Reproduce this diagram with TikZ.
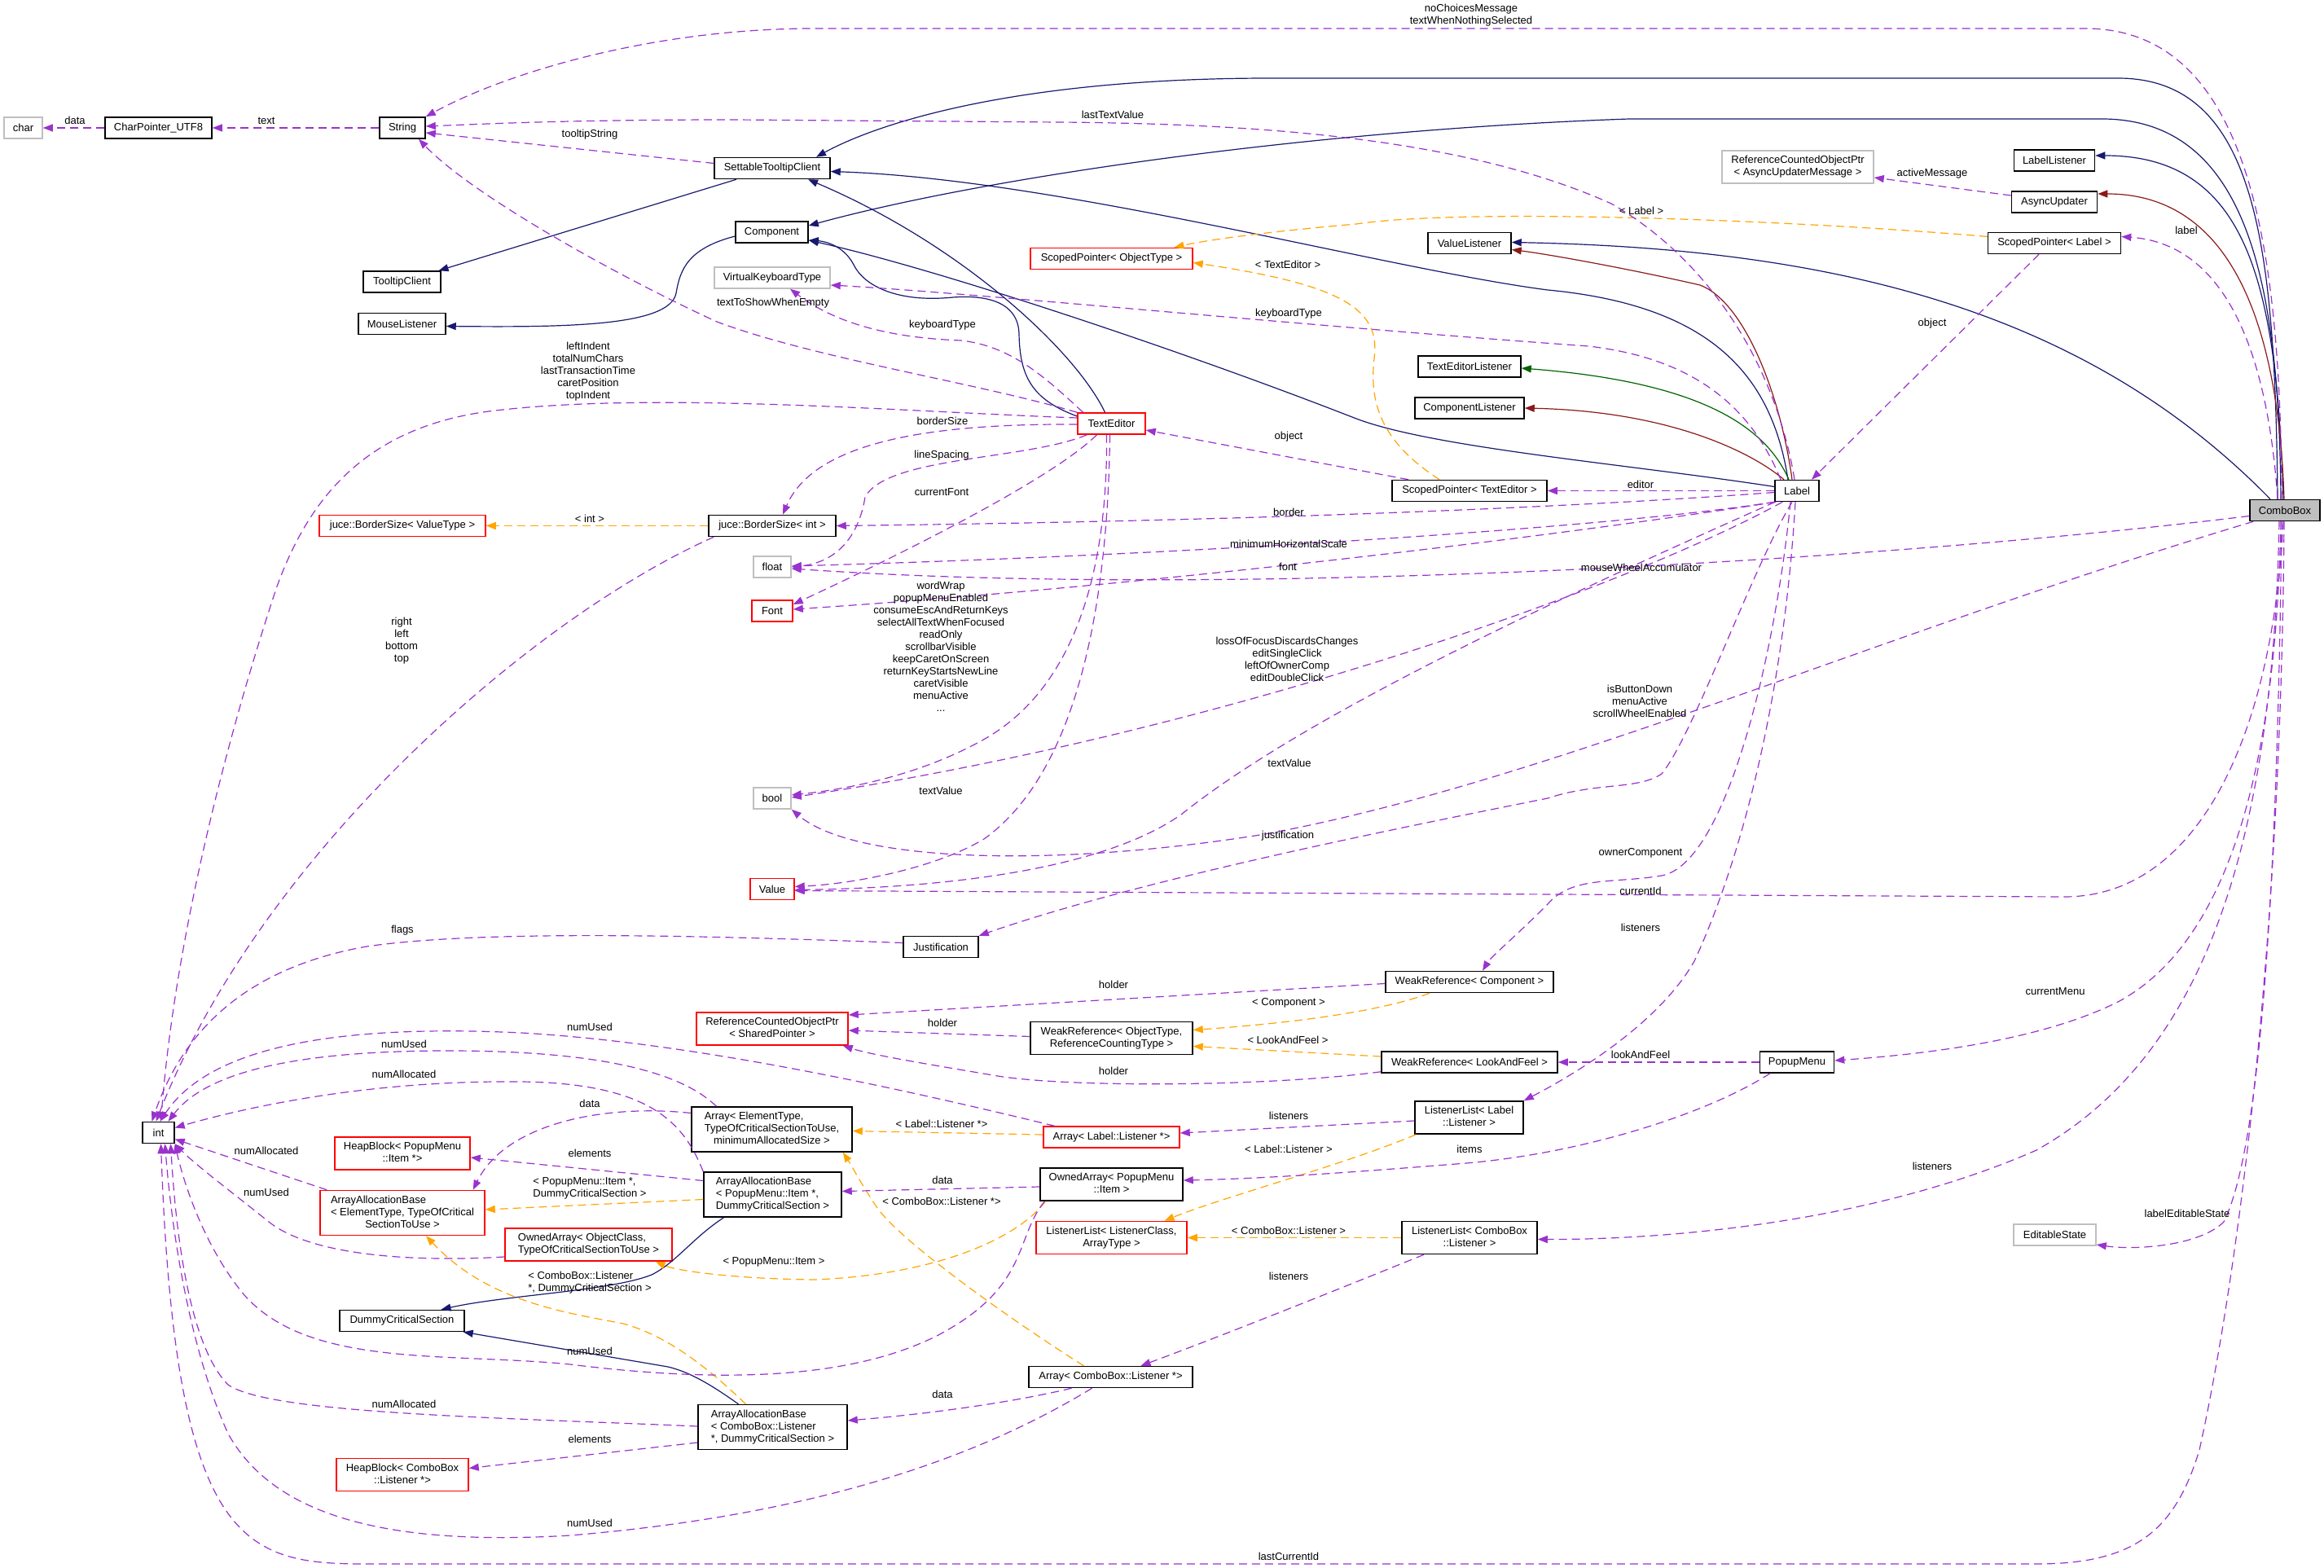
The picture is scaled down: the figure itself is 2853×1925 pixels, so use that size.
\documentclass[tikz,border=0pt]{standalone}
\usepackage{fontspec}
\setmainfont{Liberation Sans}
\usetikzlibrary{arrows.meta,calc}
\definecolor{purp}{HTML}{9A32CD}
\definecolor{mblue}{HTML}{191970}
\definecolor{fbrick}{HTML}{8B1A1A}
\definecolor{dgreen}{HTML}{006400}
\definecolor{orng}{HTML}{FFA500}
\definecolor{gry}{HTML}{BFBFBF}
\newcommand{\nf}{\fontsize{6.5}{7.5}\selectfont}
\newcommand{\twoln}[2]{\begin{tabular}{@{}l@{}}#1\\\multicolumn{1}{@{}c@{}}{#2}\end{tabular}}
\newcommand{\threeln}[3]{\begin{tabular}{@{}l@{}}#1\\#2\\\multicolumn{1}{@{}c@{}}{#3}\end{tabular}}
\begin{document}
\begin{tikzpicture}[x=0.5pt,y=-0.5pt,
  box/.style={draw=black,line width=0.75pt,fill=white,inner sep=0pt,font=\nf,minimum height=13pt},
  rb/.style={box,draw=red},
  gb/.style={box,draw=gry},
  h2/.style={minimum height=20pt},
  h3/.style={minimum height=27.5pt},
  wd/.style={minimum width=#1pt},
  lb/.style={font=\nf,inner sep=0pt,text=black,align=center},
  tip/.style={-{Triangle[length=6pt,width=4.5pt]}},
  pu/.style={draw=purp,line width=0.6pt,dash pattern=on 5pt off 3pt,tip},
  og/.style={draw=orng,line width=0.6pt,dash pattern=on 5pt off 3pt,tip},
  blu/.style={draw=mblue,line width=0.6pt,tip},
  rd/.style={draw=fbrick,line width=0.6pt,tip},
  gn/.style={draw=dgreen,line width=0.6pt,tip}]
\fill[white] (0,0) rectangle (2853,1925);
\useasboundingbox (0,0) rectangle (2853,1925);
% nodes
\node[gb, wd=23.5] (char) at (28.5,157) {char};
\node[box, wd=65.5] (cpu) at (194.5,157) {CharPointer\_UTF8};
\node[box, wd=28] (str) at (494,157) {String};
\node[box, wd=71] (settable) at (948,206.5) {SettableTooltipClient};
\node[box, wd=44.5] (component) at (947.5,285) {Component};
\node[box, wd=47.5] (tooltip) at (493.5,346) {TooltipClient};
\node[box, wd=53.5] (mouse) at (493.5,397.5) {MouseListener};
\node[gb, wd=71] (vkt) at (948,341) {VirtualKeyboardType};
\node[rb, wd=102] (bsvt) at (494,645.5) {juce::BorderSize< ValueType >};
\node[box, wd=78] (bsint) at (948,645.5) {juce::BorderSize< int >};
\node[gb, wd=23] (flt) at (948,696) {float};
\node[rb, wd=25] (fnt) at (948,750) {Font};
\node[gb, wd=23] (bol) at (948,980) {bool};
\node[rb, wd=27] (val) at (948,1091.5) {Value};
\node[rb, h2, wd=93] (rcsp) at (948,1263) {\twoln{ReferenceCountedObjectPtr}{< SharedPointer >}};
\node[rb, wd=41.5] (te) at (1364.5,520) {TextEditor};
\node[rb, wd=99.5] (spot) at (1364.5,317.5) {ScopedPointer< ObjectType >};
\node[box, wd=51] (vl) at (1804,298.5) {ValueListener};
\node[box, wd=63] (tel) at (1804,450) {TextEditorListener};
\node[box, wd=67] (cl) at (1804,501) {ComponentListener};
\node[box, wd=95] (spte) at (1804,602.5) {ScopedPointer< TextEditor >};
\node[box, wd=27] (lbl) at (2206,602.5) {Label};
\node[box, fill=gry, wd=43] (combo) at (2805,626.5) {ComboBox};
\node[box, wd=49.5] (ll) at (2522,197) {LabelListener};
\node[box, wd=52.5] (au) at (2522,248) {AsyncUpdater};
\node[gb, h2, wd=93] (rcau) at (2207,205) {\twoln{ReferenceCountedObjectPtr}{< AsyncUpdaterMessage >}};
\node[box, wd=81.5] (spl) at (2522,298.5) {ScopedPointer< Label >};
\node[box, wd=46] (just) at (1155,1162.5) {Justification};
\node[box, wd=103] (wrc) at (1804,1205.5) {WeakReference< Component >};
\node[box, h2, wd=99.5] (wrot) at (1364.5,1274.5) {\twoln{WeakReference< ObjectType,}{ReferenceCountingType >}};
\node[box, wd=108] (wrlf) at (1804,1304) {WeakReference< LookAndFeel >};
\node[box, wd=45.5] (popup) at (2206,1304) {PopupMenu};
\node[box, h2, wd=66.5] (lll) at (1803.5,1372) {\twoln{ListenerList< Label}{::Listener >}};
\node[rb, wd=83.5] (alp) at (1364.5,1396) {Array< Label::Listener *>};
\node[box, h3, wd=98.5] (aet) at (947.5,1386.5) {\threeln{Array< ElementType,}{TypeOfCriticalSectionToUse,}{minimumAllocatedSize >}};
\node[box, h2, wd=87.5] (oapi) at (1364.5,1454) {\twoln{OwnedArray< PopupMenu}{::Item >}};
\node[box, h3, wd=84.5] (aabpi) at (948.5,1466.5) {\threeln{ArrayAllocationBase}{< PopupMenu::Item *,}{DummyCriticalSection >}};
\node[rb, h2, wd=92.5] (llcl) at (1364.5,1519.5) {\twoln{ListenerList< ListenerClass,}{ArrayType >}};
\node[box, h2, wd=83] (llcb) at (1804,1519.5) {\twoln{ListenerList< ComboBox}{::Listener >}};
\node[box, wd=100.5] (acb) at (1363.5,1690.5) {Array< ComboBox::Listener *>};
\node[box, h3, wd=91.5] (aabcb) at (948.5,1752) {\threeln{ArrayAllocationBase}{< ComboBox::Listener}{*, DummyCriticalSection >}};
\node[box, wd=19.5] (int) at (194.5,1390.5) {int};
\node[rb, h2, wd=83] (hbpi) at (494,1416) {\twoln{HeapBlock< PopupMenu}{::Item *>}};
\node[rb, h3, wd=101] (aabet) at (494,1489) {\threeln{ArrayAllocationBase}{< ElementType, TypeOfCritical}{SectionToUse >}};
\node[rb, h2, wd=102.5] (oaoc) at (722.5,1528) {\twoln{OwnedArray< ObjectClass,}{TypeOfCriticalSectionToUse >}};
\node[box, wd=76.5] (dcs) at (493.5,1621.5) {DummyCriticalSection};
\node[rb, h2, wd=81] (hbcb) at (494,1810.5) {\twoln{HeapBlock< ComboBox}{::Listener *>}};
\node[gb, wd=50.5] (es) at (2522.5,1516) {EditableState};
% inheritance edges
\draw[blu] ($(combo.north)+(-9,0)$) .. controls (2793,300) and (2770,96) .. (2600,96) -- (1560,96) .. controls (1250,96) and (1080,150) .. ($(settable.north)+(54,0)$);
\draw[blu] ($(combo.north)+(-5,0)$) .. controls (2798,350) and (2760,146) .. (2580,146) -- (2000,146) .. controls (1600,160) and (1200,220) .. ($(component.east)+(0,-8)$);
\draw[blu] ($(combo.north)+(-2,0)$) .. controls (2795,350) and (2760,191) .. ($(ll.east)+(0,-6)$);
\draw[rd] ($(combo.north)+(-1,0)$) .. controls (2797,400) and (2740,238) .. ($(au.east)+(0,-10)$);
\draw[blu] ($(combo.north)+(-18,0)$) .. controls (2560,380) and (2250,305) .. ($(vl.east)+(0,-1)$);
\draw[blu] ($(lbl.north)+(-11,0)$) .. controls (2175,460) and (2100,375) .. (1900,356) .. controls (1700,330) and (1300,220) .. ($(settable.east)+(0,4)$);
\draw[blu] ($(lbl.west)+(0,-5)$) .. controls (2000,570) and (1760,550) .. (1665,514) .. controls (1450,430) and (1150,330) .. ($(component.east)+(0,10)$);
\draw[blu] ($(te.north)+(-8,0)$) .. controls (1320,430) and (1180,300) .. ($(settable.south)+(44,0)$);
\draw[blu] ($(te.west)+(0,-9)$) .. controls (1265,490) and (1252,460) .. (1251,410) .. controls (1250,370) and (1210,362) .. (1170,365) .. controls (1100,372) and (1060,350) .. (1048,325) .. controls (1035,300) and (1010,296) .. ($(component.east)+(0,10)$);
\draw[blu] ($(settable.south)+(-44,0)$) -- ($(tooltip.north)+(45,0)$);
\draw[blu] ($(component.west)+(0,5)$) .. controls (845,305) and (835,330) .. (830,360) .. controls (822,400) and (700,402) .. ($(mouse.east)+(0,3)$);
\draw[blu] ($(aabpi.south)+(-60,0)$) .. controls (850,1520) and (830,1550) .. (800,1565) .. controls (750,1585) and (620,1590) .. ($(dcs.north)+(48,0)$);
\draw[blu] ($(aabcb.north)+(-42,0)$) .. controls (880,1705) and (850,1685) .. (820,1678) -- ($(dcs.south east)+(-2,0)$);
\draw[rd] ($(lbl.north)+(-6,0)$) .. controls (2185,480) and (2140,370) .. (2087,350) .. controls (2000,330) and (1900,312) .. ($(vl.east)+(0,8)$);
\draw[rd] ($(lbl.north)+(-16,0)$) .. controls (2150,555) and (2050,505) .. (cl.east);
\draw[gn] ($(lbl.north)+(-10,0)$) .. controls (2170,530) and (2100,470) .. ($(tel.east)+(0,2)$);
% template edges
\draw[og] ($(spl.west)+(0,-8)$) .. controls (2200,270) and (1800,255) .. (1665,275) .. controls (1550,285) and (1480,295) .. ($(spot.north)+(77,0)$);
\draw[og] ($(spte.north)+(-37,0)$) .. controls (1700,545) and (1680,500) .. (1687,440) .. controls (1695,380) and (1650,350) .. ($(spot.east)+(0,5)$);
\draw[og] (bsint) -- (bsvt);
\draw[og] ($(wrc.south)+(-49,0)$) .. controls (1700,1240) and (1600,1255) .. ($(wrot.east)+(0,-10)$);
\draw[og] ($(wrlf.west)+(0,-7)$) -- ($(wrot.east)+(0,10)$);
\draw[og] ($(alp.west)+(0,-3)$) -- ($(aet.east)+(0,2)$);
\draw[og] ($(lll.south)+(-65,0)$) .. controls (1650,1430) and (1500,1470) .. ($(llcl.north)+(65,0)$);
\draw[og] (llcb) -- (llcl);
\draw[og] ($(acb.north)+(-33,0)$) .. controls (1240,1620) and (1100,1520) .. (1075,1480) .. controls (1055,1450) and (1045,1430) .. ($(aet.south east)+(-12,0)$);
\draw[og] ($(oapi.south)+(-81,0)$) .. controls (1250,1520) and (1150,1565) .. (1000,1571) .. controls (900,1570) and (830,1560) .. ($(oaoc.south east)+(-21,0)$);
\draw[og] ($(aabpi.west)+(0,6)$) -- ($(aabet.east)+(0,-4)$);
\draw[og] ($(aabcb.north)+(-33,0)$) .. controls (870,1680) and (820,1640) .. (765,1625) .. controls (700,1612) and (600,1600) .. ($(aabet.south)+(29,0)$);
% usage edges
\draw[pu] (cpu) -- (char);
\draw[pu] (str) -- (cpu);
\draw[pu] ($(combo.north)+(-4,0)$) .. controls (2800,300) and (2760,35) .. (2560,35) -- (1000,35) .. controls (800,35) and (620,90) .. (str.north east);
\draw[pu] ($(lbl.north)+(-3,0)$) .. controls (2180,450) and (2100,320) .. (1978,250) .. controls (1800,170) and (1550,152) .. (1300,150) -- (900,147) .. controls (700,147) and (600,152) .. ($(str.east)+(0,-2)$);
\draw[pu] ($(settable.west)+(0,-6)$) -- ($(str.east)+(0,6)$);
\draw[pu] (te.north west) .. controls (1200,470) and (1000,440) .. (880,395) .. controls (760,340) and (580,240) .. ($(str.south)+(20,0)$);
\draw[pu] ($(te.north)+(-35,0)$) .. controls (1280,460) and (1240,425) .. (1180,418) .. controls (1100,415) and (1030,400) .. ($(vkt.south)+(22,0)$);
\draw[pu] ($(lbl.north)+(-20,0)$) .. controls (2150,500) and (2080,440) .. (1950,425) .. controls (1600,400) and (1200,360) .. ($(vkt.east)+(0,9)$);
\draw[pu] ($(te.west)+(0,-7)$) .. controls (1100,505) and (800,480) .. (600,505) .. controls (450,525) and (380,610) .. (340,720) .. controls (280,900) and (215,1150) .. ($(int.north)+(3,0)$);
\draw[pu] ($(te.west)+(0,1)$) .. controls (1150,520) and (1000,540) .. ($(bsint.north)+(13,0)$);
\draw[pu] ($(te.south)+(-30,0)$) .. controls (1260,565) and (1090,560) .. (1062,610) .. controls (1055,655) and (1030,690) .. (flt.east);
\draw[pu] ($(te.south)+(-18,0)$) .. controls (1300,580) and (1150,660) .. ($(fnt.east)+(0,-8)$);
\draw[pu] ($(te.south)+(-6,0)$) .. controls (1360,700) and (1320,850) .. (1200,912) .. controls (1120,955) and (1030,970) .. ($(bol.east)+(0,-4)$);
\draw[pu] ($(te.south)+(-2,0)$) .. controls (1360,750) and (1320,950) .. (1208,1030) .. controls (1150,1065) and (1050,1085) .. ($(val.east)+(0,-3)$);
\draw[pu] (lbl) -- (spte);
\draw[pu] ($(spte.north)+(-75,0)$) -- ($(te.east)+(0,8)$);
\draw[pu] ($(spl.south)+(-19,0)$) -- ($(lbl.north)+(18,0)$);
\draw[pu] ($(combo.north)+(-9,0)$) .. controls (2785,450) and (2740,300) .. ($(spl.east)+(0,-8)$);
\draw[pu] ($(au.west)+(0,-8)$) -- ($(rcau.east)+(0,13)$);
\draw[pu] ($(lbl.west)+(0,2)$) .. controls (1900,625) and (1500,640) .. (bsint.east);
\draw[pu] (lbl.south west) .. controls (2000,645) and (1500,680) .. ($(flt.east)+(0,-1)$);
\draw[pu] ($(lbl.south west)+(2,0)$) .. controls (1900,660) and (1400,720) .. ($(fnt.east)+(0,-2)$);
\draw[pu] ($(combo.west)+(0,7)$) .. controls (2300,690) and (1500,735) .. ($(flt.east)+(0,2)$);
\draw[pu] ($(lbl.south west)+(10,0)$) .. controls (2000,720) and (1500,900) .. ($(bol.east)+(0,-1)$);
\draw[pu] ($(combo.south west)+(5,0)$) .. controls (2300,780) and (1900,960) .. (1553,1024) .. controls (1300,1065) and (1050,1060) .. (bol.south east);
\draw[pu] ($(lbl.south west)+(1,0)$) .. controls (1900,740) and (1600,880) .. (1450,1000) .. controls (1350,1070) and (1150,1090) .. ($(val.east)+(0,1)$);
\draw[pu] ($(lbl.south)+(-6,0)$) .. controls (2150,700) and (2080,900) .. (2040,950) .. controls (2010,970) and (1960,960) .. (1900,980) .. controls (1700,1020) and (1400,1080) .. (just.north east);
\draw[pu] ($(combo.south)+(-2,0)$) .. controls (2790,900) and (2700,1101) .. (2534,1101) -- ($(val.east)+(0,2)$);
\draw[pu] ($(lbl.south)+(-8,0)$) .. controls (2180,800) and (2120,1060) .. (2040,1075) .. controls (1980,1085) and (1930,1075) .. (1900,1110) .. controls (1860,1150) and (1830,1175) .. ($(wrc.north)+(16,0)$);
\draw[pu] ($(lbl.south)+(-2,0)$) .. controls (2190,850) and (2140,1050) .. (2080,1180) .. controls (2040,1250) and (1950,1310) .. (lll.north east);
\draw[pu] ($(wrc.west)+(0,2)$) -- ($(rcsp.east)+(0,-17)$);
\draw[pu] ($(wrot.west)+(0,-2)$) -- ($(rcsp.east)+(0,2)$);
\draw[pu] ($(wrlf.south west)+(0,-2)$) .. controls (1550,1335) and (1300,1335) .. (1219,1320) .. controls (1130,1305) and (1070,1295) .. ($(rcsp.south east)+(-7,0)$);
\draw[pu] (popup) -- (wrlf);
\draw[pu] ($(combo.south)+(-5,0)$) .. controls (2795,900) and (2750,1150) .. (2600,1230) .. controls (2500,1280) and (2350,1295) .. ($(popup.east)+(0,-2)$);
\draw[pu] ($(popup.south)+(-33,0)$) .. controls (2100,1365) and (1950,1415) .. (1800,1428) .. controls (1650,1440) and (1550,1447) .. ($(oapi.east)+(0,-5)$);
\draw[pu] ($(combo.south)+(-7,0)$) .. controls (2790,1050) and (2700,1300) .. (2500,1412) .. controls (2300,1500) and (2050,1522) .. ($(llcb.east)+(0,2)$);
\draw[pu] ($(combo.south)+(-4,0)$) .. controls (2795,1150) and (2770,1420) .. (2730,1500) .. controls (2700,1530) and (2620,1535) .. ($(es.east)+(0,12)$);
\draw[pu] ($(combo.south)+(-1,0)$) .. controls (2800,1200) and (2740,1600) .. (2700,1780) .. controls (2670,1880) and (2620,1920) .. (2500,1920) -- (450,1920) .. controls (300,1920) and (215,1900) .. ($(int.south)+(3,0)$);
\draw[pu] ($(lll.west)+(0,4)$) -- ($(alp.east)+(0,-5)$);
\draw[pu] ($(llcb.south)+(-56,0)$) .. controls (1650,1580) and (1500,1640) .. ($(acb.north)+(37,0)$);
\draw[pu] ($(oapi.west)+(0,3)$) -- ($(aabpi.east)+(0,-4)$);
\draw[pu] ($(acb.south)+(-48,0)$) .. controls (1250,1720) and (1150,1735) .. ($(aabcb.east)+(0,-8)$);
\draw[pu] ($(aet.west)+(0,-20)$) .. controls (740,1355) and (620,1380) .. ($(aabet.north east)+(-15,0)$);
\draw[pu] ($(aabpi.west)+(0,-17)$) -- ($(hbpi.east)+(0,5)$);
\draw[pu] ($(aabcb.west)+(0,19)$) -- ($(hbcb.east)+(0,-8)$);
\draw[pu] ($(aabet.north west)+(9,0)$) -- ($(int.east)+(0,8)$);
\draw[pu] ($(oaoc.west)+(0,15)$) .. controls (500,1550) and (380,1540) .. (330,1500) .. controls (280,1460) and (240,1430) .. (int.south east);
\draw[pu] ($(aet.north)+(-68,0)$) .. controls (840,1320) and (750,1290) .. (550,1290) .. controls (350,1290) and (250,1320) .. ($(int.north)+(12,0)$);
\draw[pu] ($(alp.north)+(-70,0)$) .. controls (1100,1335) and (850,1280) .. (640,1268) .. controls (430,1258) and (260,1280) .. ($(int.north)+(2,0)$);
\draw[pu] (aabpi.north west) .. controls (840,1380) and (800,1330) .. (640,1328) .. controls (450,1326) and (300,1360) .. ($(int.east)+(0,-6)$);
\draw[pu] ($(aabcb.west)+(0,-1)$) .. controls (600,1740) and (330,1735) .. (280,1700) .. controls (230,1650) and (215,1500) .. ($(int.south)+(15,0)$);
\draw[pu] ($(oapi.south)+(-82,0)$) .. controls (1245,1520) and (1265,1580) .. (1150,1640) .. controls (1050,1690) and (900,1700) .. (700,1675) .. controls (550,1660) and (380,1680) .. (300,1590) .. controls (250,1530) and (225,1450) .. (int.south east);
\draw[pu] ($(acb.south)+(-23,0)$) .. controls (1200,1790) and (1000,1860) .. (700,1885) .. controls (450,1900) and (330,1850) .. (280,1760) .. controls (230,1650) and (210,1500) .. ($(int.south)+(8,0)$);
\draw[pu] ($(bsint.south west)+(7,0)$) .. controls (650,760) and (320,1050) .. ($(int.north)+(-3,0)$);
\draw[pu] ($(just.west)+(0,-5)$) .. controls (900,1150) and (600,1140) .. (450,1162) .. controls (320,1185) and (230,1250) .. ($(int.north)+(-8,0)$);
% edge labels
\node[lb] (t01) at (92,148) {data};
\node[lb] (t02) at (327,148) {text};
\node[lb] (t03) at (1806,19) {noChoicesMessage\\textWhenNothingSelected};
\node[lb] (t04) at (1366,141) {lastTextValue};
\node[lb] (t05) at (724,165) {tooltipString};
\node[lb] (t06) at (949,372) {textToShowWhenEmpty};
\node[lb] (t07) at (1157,399) {keyboardType};
\node[lb] (t08) at (1582,385) {keyboardType};
\node[lb] (t09) at (722,456) {leftIndent\\totalNumChars\\lastTransactionTime\\caretPosition\\topIndent};
\node[lb] (t10) at (1157,517) {borderSize};
\node[lb] (t11) at (1156,559) {lineSpacing};
\node[lb] (t12) at (1156,604) {currentFont};
\node[lb] (t13) at (1155,794) {wordWrap\\popupMenuEnabled\\consumeEscAndReturnKeys\\selectAllTextWhenFocused\\readOnly\\scrollbarVisible\\keepCaretOnScreen\\returnKeyStartsNewLine\\caretVisible\\menuActive\\...};
\node[lb] (t14) at (1155,971) {textValue};
\node[lb] (t15) at (2014,595) {editor};
\node[lb] (t16) at (1582,536) {object};
\node[lb] (t17) at (2372,397) {object};
\node[lb] (t18) at (2684,283) {label};
\node[lb] (t19) at (2372,213) {activeMessage};
\node[lb] (t20) at (2015,259) {< Label >};
\node[lb] (t21) at (1581,325) {< TextEditor >};
\node[lb] (t22) at (724,637) {< int >};
\node[lb] (t23) at (1582,629) {border};
\node[lb] (t24) at (1582,668) {minimumHorizontalScale};
\node[lb] (t25) at (1581,696) {font};
\node[lb] (t26) at (2015,697) {mouseWheelAccumulator};
\node[lb] (t27) at (1580,809) {lossOfFocusDiscardsChanges\\editSingleClick\\leftOfOwnerComp\\editDoubleClick};
\node[lb] (t28) at (2013,861) {isButtonDown\\menuActive\\scrollWheelEnabled};
\node[lb] (t29) at (1583,937) {textValue};
\node[lb] (t30) at (1581,1026) {justification};
\node[lb] (t31) at (2014,1094) {currentId};
\node[lb] (t32) at (2014,1047) {ownerComponent};
\node[lb] (t33) at (2014,1139) {listeners};
\node[lb] (t34) at (493,787) {right\\left\\bottom\\top};
\node[lb] (t35) at (494,1142) {flags};
\node[lb] (t36) at (1367,1209) {holder};
\node[lb] (t37) at (1157,1256) {holder};
\node[lb] (t38) at (1367,1315) {holder};
\node[lb] (t39) at (1582,1231) {< Component >};
\node[lb] (t40) at (1581,1277) {< LookAndFeel >};
\node[lb] (t41) at (2014,1295) {lookAndFeel};
\node[lb] (t42) at (2523,1217) {currentMenu};
\node[lb] (t43) at (1804,1411) {items};
\node[lb] (t44) at (1582,1370) {listeners};
\node[lb] (t45) at (1156,1380) {< Label::Listener *>};
\node[lb] (t46) at (1582,1411) {< Label::Listener >};
\node[lb] (t47) at (1157,1449) {data};
\node[lb] (t48) at (1156,1475) {< ComboBox::Listener *>};
\node[lb] (t49) at (950,1549) {< PopupMenu::Item >};
\node[lb] (t50) at (1582,1511) {< ComboBox::Listener >};
\node[lb] (t51) at (1582,1567) {listeners};
\node[lb] (t52) at (2372,1432) {listeners};
\node[lb] (t53) at (2685,1490) {labelEditableState};
\node[lb] (t54) at (1157,1712) {data};
\node[lb] (t55) at (1582,1911) {lastCurrentId};
\node[lb] (t56) at (724,1261) {numUsed};
\node[lb] (t57) at (496,1282) {numUsed};
\node[lb] (t58) at (496,1319) {numAllocated};
\node[lb] (t59) at (724,1355) {data};
\node[lb] (t60) at (327,1413) {numAllocated};
\node[lb] (t61) at (724,1416) {elements};
\node[lb, align=left] (t62) at (724,1459) {< PopupMenu::Item *,\\DummyCriticalSection >};
\node[lb] (t63) at (327,1464) {numUsed};
\node[lb, align=left] (t64) at (724,1575) {< ComboBox::Listener\\*, DummyCriticalSection >};
\node[lb] (t65) at (724,1659) {numUsed};
\node[lb] (t66) at (496,1724) {numAllocated};
\node[lb] (t67) at (724,1767) {elements};
\node[lb] (t68) at (724,1870) {numUsed};
\end{tikzpicture}
\end{document}
